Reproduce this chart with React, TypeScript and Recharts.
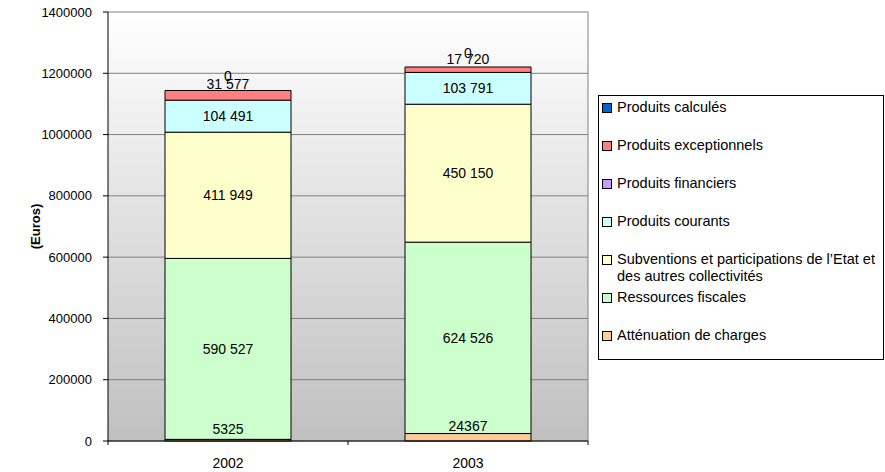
import { Bar, BarChart, CartesianGrid, LabelList, Legend, XAxis, YAxis } from 'recharts';

// Produits de fonctionnement, 2002-2003 (euros)
const YEARS = ['2002', '2003'];
const ATTENUATION = [5325, 24367];
const RESSOURCES = [590527, 624526];
const SUBVENTIONS = [411949, 450150];
const COURANTS = [104491, 103791];
const FINANCIERS = [0, 0];
const EXCEPTIONNELS = [31577, 17720];
const CALCULES = [0, 0];
const Y_TICKS = [0, 200000, 400000, 600000, 800000, 1000000, 1200000, 1400000];

const FONT = '"Liberation Sans", Arial, sans-serif';

// bottom of the stack first
const SERIES = [
  { key: 'attenuation', name: 'Atténuation de charges', color: '#FFCC99', values: ATTENUATION, label: true, grouped: false },
  { key: 'ressources', name: 'Ressources fiscales', color: '#CCFFCC', values: RESSOURCES, label: true, grouped: true },
  { key: 'subventions', name: 'Subventions et participations de l’Etat et des autres collectivités', color: '#FFFFCC', values: SUBVENTIONS, label: true, grouped: true },
  { key: 'courants', name: 'Produits courants', color: '#CCFFFF', values: COURANTS, label: true, grouped: true },
  { key: 'financiers', name: 'Produits financiers', color: '#CC99FF', values: FINANCIERS, label: false, grouped: true },
  { key: 'exceptionnels', name: 'Produits exceptionnels', color: '#FF8080', values: EXCEPTIONNELS, label: true, grouped: true },
  { key: 'calcules', name: 'Produits calculés', color: '#0066CC', values: CALCULES, label: false, grouped: true },
];

const data = YEARS.map((year, i) => {
  const row: Record<string, string | number> = { year };
  SERIES.forEach((s) => (row[s.key] = s.values[i]));
  return row;
});

const group = (v: number) => String(v).replace(/\B(?=(\d{3})+(?!\d))/g, ' ');

// Excel nudges labels of thin segments upwards
const segmentLabel = (grouped: boolean) => (props: any) => {
  const { x, y, width, height, value } = props;
  if (value == null) return null;
  const top = Math.min(y, y + height);
  const h = Math.abs(height);
  let cy = top + h / 2;
  if (h < 20) cy = top + h / 2 - 11;
  return (
    <text x={x + width / 2} y={cy} textAnchor="middle" dominantBaseline="central" fontSize={14} fontFamily={FONT} fill="#000">
      {grouped ? group(Number(value)) : String(value)}
    </text>
  );
};

// the empty top series has no rectangle, so its "0" is hung above the stack
const zeroOnTop = (props: any) => {
  const { x, y, width, height, value } = props;
  if (value == null) return null;
  const top = Math.min(y, y + height);
  return (
    <text x={x + width / 2} y={top - 14} textAnchor="middle" dominantBaseline="central" fontSize={14} fontFamily={FONT} fill="#000">
      {String(value)}
    </text>
  );
};

const EurosLabel = ({ viewBox }: any) => {
  const cx = viewBox.x + 35;
  const cy = viewBox.y + viewBox.height / 2;
  return (
    <text x={cx} y={cy} transform={`rotate(-90 ${cx} ${cy})`} textAnchor="middle" dominantBaseline="central"
      fontSize={13} fontWeight="bold" fontFamily={FONT} fill="#000">
      (Euros)
    </text>
  );
};

// category label in the middle, tick marks on the category boundaries
const YearTick = (props: any) => {
  const { x, y, payload, index, visibleTicksCount } = props;
  const half = payload.offset || 120;
  const last = index === (visibleTicksCount ?? YEARS.length) - 1;
  return (
    <g>
      <line x1={x - half} x2={x - half} y1={y} y2={y + 4} stroke="#000" />
      {last && <line x1={x + half} x2={x + half} y1={y} y2={y + 4} stroke="#000" />}
      <text x={x} y={y + 27} textAnchor="middle" fontSize={14} fontFamily={FONT} fill="#000">
        {payload.value}
      </text>
    </g>
  );
};

const LegendBox = () => (
  <div
    style={{
      boxSizing: 'border-box',
      width: 286,
      height: 265,
      border: '1px solid #000',
      background: '#fff',
      paddingTop: 3,
      fontFamily: FONT,
      fontSize: 14.5,
      color: '#000',
    }}
  >
    {[...SERIES].reverse().map((s) => (
      <div key={s.key} style={{ display: 'flex', height: 38, alignItems: 'flex-start' }}>
        <span
          style={{
            width: 8,
            height: 8,
            marginTop: 4,
            marginLeft: 3,
            marginRight: 5,
            border: '1px solid #000',
            background: s.color,
            flex: 'none',
          }}
        />
        <span style={{ lineHeight: '17px', width: 262, textAlign: 'left' }}>{s.name}</span>
      </div>
    ))}
  </div>
);

export default function App() {
  return (
    <div style={{ position: 'absolute', left: 0, top: 0, background: '#fff' }}>
      <BarChart
        width={885}
        height={472}
        data={data}
        margin={{ top: 12, right: 297, bottom: 0, left: 0 }}
        barCategoryGap="23.75%"
      >
        <defs>
          <linearGradient id="plotBg" x1="0" y1="0" x2="0" y2="1">
            <stop offset="0%" stopColor="#ffffff" />
            <stop offset="100%" stopColor="#c0c0c0" />
          </linearGradient>
        </defs>
        <CartesianGrid
          fill="url(#plotBg)"
          stroke="#808080"
          horizontal
          vertical
          verticalCoordinatesGenerator={({ offset }: any) => [offset.left + offset.width]}
        />
        <XAxis
          dataKey="year"
          height={31}
          axisLine={{ stroke: '#000' }}
          tickLine={false}
          tickSize={0}
          tickMargin={0}
          interval={0}
          tick={<YearTick />}
        />
        <YAxis
          width={108}
          domain={[0, 1400000]}
          ticks={Y_TICKS}
          interval={0}
          axisLine={{ stroke: '#000' }}
          tickLine={{ stroke: '#000' }}
          tickSize={5}
          tickMargin={11}
          tick={{ fontSize: 13, fontFamily: FONT, fill: '#000' }}
          label={<EurosLabel />}
        />
        <Legend
          layout="horizontal"
          verticalAlign="middle"
          align="center"
          content={<LegendBox />}
          wrapperStyle={{ position: 'absolute', left: 598, top: 95, width: 286, height: 265 }}
        />
        {SERIES.map((s) => (
          <Bar key={s.key} dataKey={s.key} name={s.name} stackId="a" fill={s.color} stroke="#000" strokeWidth={1} isAnimationActive={false}>
            {s.label && <LabelList dataKey={s.key} content={segmentLabel(s.grouped)} />}
            {s.key === 'exceptionnels' && <LabelList dataKey="calcules" content={zeroOnTop} />}
          </Bar>
        ))}
      </BarChart>
    </div>
  );
}
